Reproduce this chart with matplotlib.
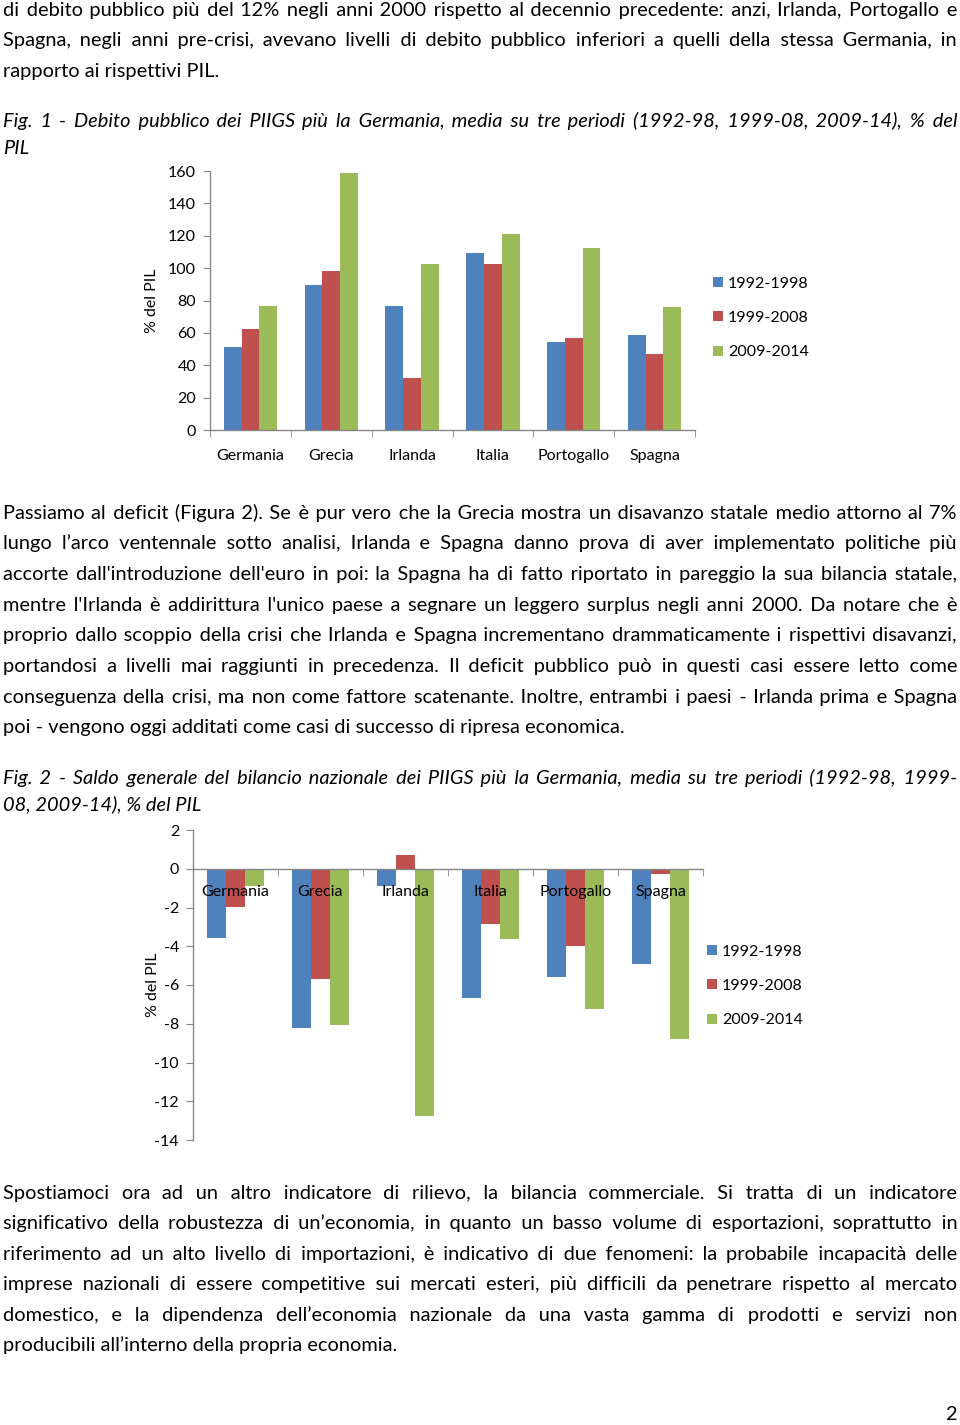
import numpy as np
import matplotlib
matplotlib.use('Agg')
import matplotlib.pyplot as plt

plt.rcParams['font.family'] = ['Lato', 'DejaVu Sans']
plt.rcParams['axes.unicode_minus'] = False

# ===============================
# Data
# ===============================
countries = ['Germania', 'Grecia', 'Irlanda', 'Italia', 'Portogallo', 'Spagna']
periods = ['1992-1998', '1999-2008', '2009-2014']

debt_1992_98 = [51.3, 89.8, 76.4, 109.3, 54.6, 58.5]
debt_1999_08 = [62.2, 98.4, 31.9, 102.8, 57.0, 47.2]
debt_2009_14 = [76.4, 158.6, 102.3, 121.3, 112.6, 75.8]

bal_1992_98 = [-3.58, -8.2, -0.9, -6.68, -5.58, -4.93]
bal_1999_08 = [-1.95, -5.67, 0.72, -2.86, -4.0, -0.28]
bal_2009_14 = [-0.9, -8.04, -12.76, -3.65, -7.23, -8.78]

debt_ticks = [0, 20, 40, 60, 80, 100, 120, 140, 160]
bal_ticks = [2, 0, -2, -4, -6, -8, -10, -12, -14]

para1 = [
    ("di debito pubblico più del 12% negli anni 2000 rispetto al decennio precedente: anzi, Irlanda, Portogallo e", True),
    ("Spagna, negli anni pre-crisi, avevano livelli di debito pubblico inferiori a quelli della stessa Germania, in", True),
    ("rapporto ai rispettivi PIL.", False),
]
caption1 = [
    ("Fig. 1 - Debito pubblico dei PIIGS più la Germania, media su tre periodi (1992-98, 1999-08, 2009-14), % del", True),
    ("PIL", False),
]
para2 = [
    ("Passiamo al deficit (Figura 2). Se è pur vero che la Grecia mostra un disavanzo statale medio attorno al 7%", True),
    ("lungo l’arco ventennale sotto analisi, Irlanda e Spagna danno prova di aver implementato politiche più", True),
    ("accorte dall'introduzione dell'euro in poi: la Spagna ha di fatto riportato in pareggio la sua bilancia statale,", True),
    ("mentre l'Irlanda è addirittura l'unico paese a segnare un leggero surplus negli anni 2000. Da notare che è", True),
    ("proprio dallo scoppio della crisi che Irlanda e Spagna incrementano drammaticamente i rispettivi disavanzi,", True),
    ("portandosi a livelli mai raggiunti in precedenza. Il deficit pubblico può in questi casi essere letto come", True),
    ("conseguenza della crisi, ma non come fattore scatenante. Inoltre, entrambi i paesi - Irlanda prima e Spagna", True),
    ("poi - vengono oggi additati come casi di successo di ripresa economica.", False),
]
caption2 = [
    ("Fig. 2 - Saldo generale del bilancio nazionale dei PIIGS più la Germania, media su tre periodi (1992-98, 1999-", True),
    ("08, 2009-14), % del PIL", False),
]
para3 = [
    ("Spostiamoci ora ad un altro indicatore di rilievo, la bilancia commerciale. Si tratta di un indicatore", True),
    ("significativo della robustezza di un’economia, in quanto un basso volume di esportazioni, soprattutto in", True),
    ("riferimento ad un alto livello di importazioni, è indicativo di due fenomeni: la probabile incapacità delle", True),
    ("imprese nazionali di essere competitive sui mercati esteri, più difficili da penetrare rispetto al mercato", True),
    ("domestico, e la dipendenza dell’economia nazionale da una vasta gamma di prodotti e servizi non", True),
    ("producibili all’interno della propria economia.", False),
]

colors = ['#4F81BD', '#C0504D', '#9BBB59']
axis_gray = '#868686'

W, H = 960, 1425
fig = plt.figure(figsize=(W / 100, H / 100), dpi=100)

# page axes in pixel coordinates
page = fig.add_axes([0, 0, 1, 1])
page.set_xlim(0, W)
page.set_ylim(H, 0)
page.axis('off')
renderer = fig.canvas.get_renderer()

BODY = 14.4
BASE = 5.5  # baseline offset below the line centre


def text_width(s, style):
    t = page.text(0, 0, s, fontsize=BODY, style=style)
    w = t.get_window_extent(renderer).width
    t.remove()
    return w


def space_width(ch, style):
    return (text_width('x' + ch * 20 + 'x', style) - text_width('xx', style)) / 20


def justify(words, style, target):
    # build one string, filling each gap with normal + hair spaces
    sp = space_width(' ', style)
    hair = space_width('\u200a', style)
    if hair < 0.3:
        hair = space_width('\u2009', style)
        fine = '\u2009'
    else:
        fine = '\u200a'
    widths = [text_width(w, style) for w in words]
    gap = (target - sum(widths)) / (len(words) - 1)
    out = words[0]
    cur = 0.0
    want = 0.0
    for w in words[1:]:
        want += gap
        delta = want - cur
        k = max(1, int(delta // sp))
        m = max(0, int(round((delta - k * sp) / hair)))
        out += ' ' * k + fine * m + w
        cur += k * sp + m * hair
    return out


def put_lines(lines, y0, dy, style='normal', x0=3, x1=957):
    for i, (txt, just) in enumerate(lines):
        y = y0 + i * dy + BASE
        if just:
            txt = justify(txt.split(' '), style, x1 - x0)
        page.text(x0, y, txt, fontsize=BODY, style=style, va='baseline', ha='left')


put_lines(para1, 10, 30.5)
put_lines(caption1, 121, 27, style='italic')
put_lines(para2, 513, 30.7)
put_lines(caption2, 778, 27, style='italic')
put_lines(para3, 1193, 30.6)
page.text(957, 1415 + BASE, '2', fontsize=BODY, ha='right', va='baseline')


def fig_rect(l, r, t, b):
    return [l / W, 1 - b / H, (r - l) / W, (b - t) / H]


def style_axes(ax):
    for s in ['top', 'right']:
        ax.spines[s].set_visible(False)
    for s in ['left', 'bottom']:
        ax.spines[s].set_color(axis_gray)
        ax.spines[s].set_linewidth(1.0)
    ax.set_xlim(-0.5, len(countries) - 0.5)
    ax.set_xticks(np.arange(len(countries)))
    ax.set_xticks(np.arange(len(countries) + 1) - 0.5, minor=True)
    ax.tick_params(axis='x', which='major', length=0, labelsize=11.5)
    ax.tick_params(axis='x', which='minor', length=5, color=axis_gray, direction='out')
    ax.tick_params(axis='y', length=5, color=axis_gray, labelsize=11.5)
    ax.set_xticklabels(countries)
    ax.patch.set_alpha(0)


x = np.arange(len(countries))
bw = 0.22
leg_kw = dict(frameon=False, fontsize=11.5, handlelength=0.6, handleheight=0.6,
              handletextpad=0.35, labelspacing=1.28, borderaxespad=0, borderpad=0)

# ===============================
# Fig. 1
# ===============================
ax1 = fig.add_axes(fig_rect(210, 695, 171, 430))
for k, vals in enumerate([debt_1992_98, debt_1999_08, debt_2009_14]):
    ax1.bar(x + (k - 1) * bw, vals, width=bw, color=colors[k], label=periods[k])
ax1.set_ylim(0, 160)
ax1.set_yticks(debt_ticks)
style_axes(ax1)
ax1.tick_params(axis='x', which='major', pad=14)
ax1.tick_params(axis='y', pad=5)
page.text(152, 301, '% del PIL', fontsize=11.5, rotation=90, ha='center', va='center')
ax1.legend(loc='center left', bbox_to_anchor=(713 / W, 1 - 318 / H),
           bbox_transform=fig.transFigure, **leg_kw)

# ===============================
# Fig. 2
# ===============================
ax2 = fig.add_axes(fig_rect(193, 703, 830, 1140))
for k, vals in enumerate([bal_1992_98, bal_1999_08, bal_2009_14]):
    ax2.bar(x + (k - 1) * bw, vals, width=bw, color=colors[k], label=periods[k])
ax2.set_ylim(-14, 2)
ax2.set_yticks(bal_ticks)
style_axes(ax2)
ax2.spines['bottom'].set_position(('data', 0))
ax2.tick_params(axis='x', which='major', pad=12)
ax2.tick_params(axis='y', pad=5)
for lbl in ax2.get_xticklabels():
    lbl.set_zorder(5)
page.text(153, 985, '% del PIL', fontsize=11.5, rotation=90, ha='center', va='center')
ax2.legend(loc='center left', bbox_to_anchor=(707 / W, 1 - 986 / H),
           bbox_transform=fig.transFigure, **leg_kw)

fig.savefig('out.png', dpi=100)
